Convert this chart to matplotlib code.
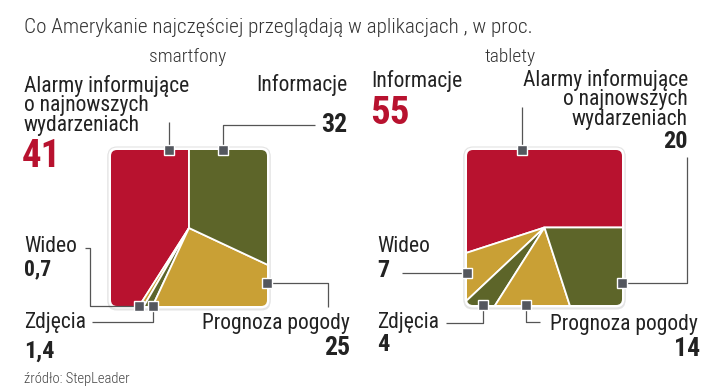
import matplotlib
matplotlib.use("Agg")
import matplotlib.pyplot as plt
from matplotlib.patches import FancyBboxPatch

plt.rcParams['font.family'] = ['Roboto Condensed', 'DejaVu Sans']

# dane (w proc.)
title = "Co Amerykanie najczęściej przeglądają w aplikacjach , w proc."
source = "źródło: StepLeader"
groups = ["smartfony", "tablety"]

smart_labels = ["Alarmy informujące\no najnowszych\nwydarzeniach", "Wideo", "Zdjęcia",
                "Prognoza pogody", "Informacje"]
smart_values = [41, 0.7, 1.4, 25, 32]
smart_text = ["41", "0,7", "1,4", "25", "32"]

tab_labels = ["Informacje", "Wideo", "Zdjęcia", "Prognoza pogody",
              "Alarmy informujące\no najnowszych\nwydarzeniach"]
tab_values = [55, 7, 4, 14, 20]
tab_text = ["55", "7", "4", "14", "20"]

RED, OLIVE, GOLD = "#b8122f", "#5d6529", "#c9a035"
colors = [RED, GOLD, OLIVE, GOLD, OLIVE]
DARK = "#222222"
LINE = "#555555"

W, H = 720, 392
fig = plt.figure(figsize=(7.2, 3.92), dpi=100)
ax = fig.add_axes([0, 0, 1, 1])


def Y(y):
    # piksele liczone od góry
    return H - y


def square_pie(x0, y0, size, values, start):
    cx, cy = x0 + size / 2, Y(y0 + size / 2)
    # cień i biała ramka
    shadow = FancyBboxPatch((x0 - 3.5, Y(y0 + size) - 4.5), size + 7, size + 7,
                            boxstyle="round,pad=0,rounding_size=9",
                            fc="#cfcfcf", ec="none", alpha=0.55, zorder=1)
    border = FancyBboxPatch((x0 - 3, Y(y0 + size) - 3), size + 6, size + 6,
                            boxstyle="round,pad=0,rounding_size=9",
                            fc="white", ec="#e4e4e4", lw=0.8, zorder=2)
    clip = FancyBboxPatch((x0, Y(y0 + size)), size, size,
                          boxstyle="round,pad=0,rounding_size=6",
                          fc="none", ec="none", zorder=3)
    ax.add_patch(shadow)
    ax.add_patch(border)
    ax.add_patch(clip)
    wedges, _ = ax.pie(values, colors=colors, startangle=start, counterclock=True,
                       center=(cx, cy), radius=size, frame=True,
                       wedgeprops=dict(edgecolor="white", linewidth=1.3))
    for w in wedges:
        w.set_clip_path(clip)
        w.set_clip_on(True)
        w.set_zorder(3)


def leader(pts):
    xs = [p[0] for p in pts]
    ys = [Y(p[1]) for p in pts]
    ax.plot(xs, ys, color=LINE, lw=0.9, zorder=4, solid_capstyle="butt")
    ax.plot(xs[0], ys[0], marker="s", ms=7.5, mfc="#54575e", mec="white",
            mew=1.0, zorder=5)


square_pie(111, 150, 156, smart_values, 90)
square_pie(467, 150, 155, tab_values, 0)

ax.set_xlim(0, W)
ax.set_ylim(0, H)
ax.set_aspect("equal")
ax.axis("off")

# linie odniesienia: pierwszy punkt = znacznik
leader([(169, 150), (169, 122)])
leader([(223, 150), (223, 125), (315, 125)])
leader([(267, 283), (328, 283), (328, 307)])
leader([(139, 306), (90, 306), (90, 248), (85, 248)])
leader([(153, 306), (153, 322), (92, 322)])

leader([(522, 150), (522, 107)])
leader([(622, 283), (687, 283), (687, 157)])
leader([(467, 273), (402, 273)])
leader([(483, 305), (483, 323), (446, 323)])
leader([(526, 305), (526, 322), (540, 322)])

# tytuły
ax.text(24, Y(33), title, fontsize=15.3, fontweight="light", color="#333333")
ax.text(188, Y(62), groups[0], fontsize=14, fontweight="light", color="#333333", ha="center")
ax.text(510, Y(62), groups[1], fontsize=14, fontweight="light", color="#333333", ha="center")
ax.text(24, Y(383), source, fontsize=10.5, fontweight="light", color="#444444")

lab = dict(fontsize=15.5, color=DARK, linespacing=0.92)
num = dict(fontweight="bold", color=DARK)

# smartfony
ax.text(24, Y(131), smart_labels[0], ha="left", va="baseline", **lab)
ax.text(22, Y(167), smart_text[0], fontsize=28, fontweight="bold", color=RED)
ax.text(347, Y(91), smart_labels[4], ha="right", **lab)
ax.text(347, Y(132), smart_text[4], ha="right", fontsize=18.5, **num)
ax.text(24, Y(252), smart_labels[1], **lab)
ax.text(24, Y(275), smart_text[1], fontsize=15.5, **num)
ax.text(24, Y(328), smart_labels[2], **lab)
ax.text(24, Y(358), smart_text[2], fontsize=17.5, **num)
ax.text(350, Y(329), smart_labels[3], ha="right", **lab)
ax.text(350, Y(355), smart_text[3], ha="right", fontsize=18.5, **num)

# tablety
ax.text(371, Y(87), tab_labels[0], **lab)
ax.text(370, Y(124), tab_text[0], fontsize=28, fontweight="bold", color=RED)
ax.text(688, Y(125), tab_labels[4], ha="right", multialignment="right", **lab)
ax.text(688, Y(148), tab_text[4], ha="right", fontsize=17.5, **num)
ax.text(377, Y(252), tab_labels[1], **lab)
ax.text(377, Y(277), tab_text[1], fontsize=17.5, **num)
ax.text(377, Y(328), tab_labels[2], **lab)
ax.text(377, Y(351), tab_text[2], fontsize=17.5, **num)
ax.text(698, Y(330), tab_labels[3], ha="right", **lab)
ax.text(700, Y(356), tab_text[3], ha="right", fontsize=18.5, **num)

fig.savefig("out.png", dpi=100)
